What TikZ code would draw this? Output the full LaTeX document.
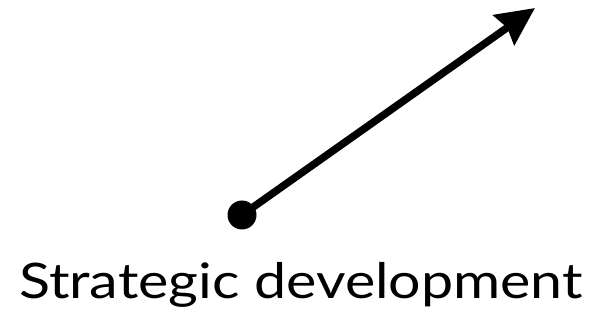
\documentclass[tikz,border=0pt]{standalone}
\usepackage{fontspec}
\setmainfont{Lato}
\usetikzlibrary{arrows.meta}
\begin{document}
\begin{tikzpicture}[x=1pt,y=1pt,
  dotnode/.style={circle,fill=black,inner sep=0pt,minimum size=29pt},
  arrowline/.style={line width=7.5pt,-{Stealth[length=38pt,width=36pt,inset=4pt]}},
  labeltext/.style={font=\fontsize{49}{60}\selectfont,inner sep=0pt,xscale=1.17}]
\useasboundingbox (0,0) rectangle (607,332);
\node[dotnode] (start) at (242,117) {};
\coordinate (tip) at (535,324);
\draw[arrowline] (start.center) -- (tip);
\node[labeltext,anchor=base] (label) at (301,34) {Strategic development};
\end{tikzpicture}
\end{document}
